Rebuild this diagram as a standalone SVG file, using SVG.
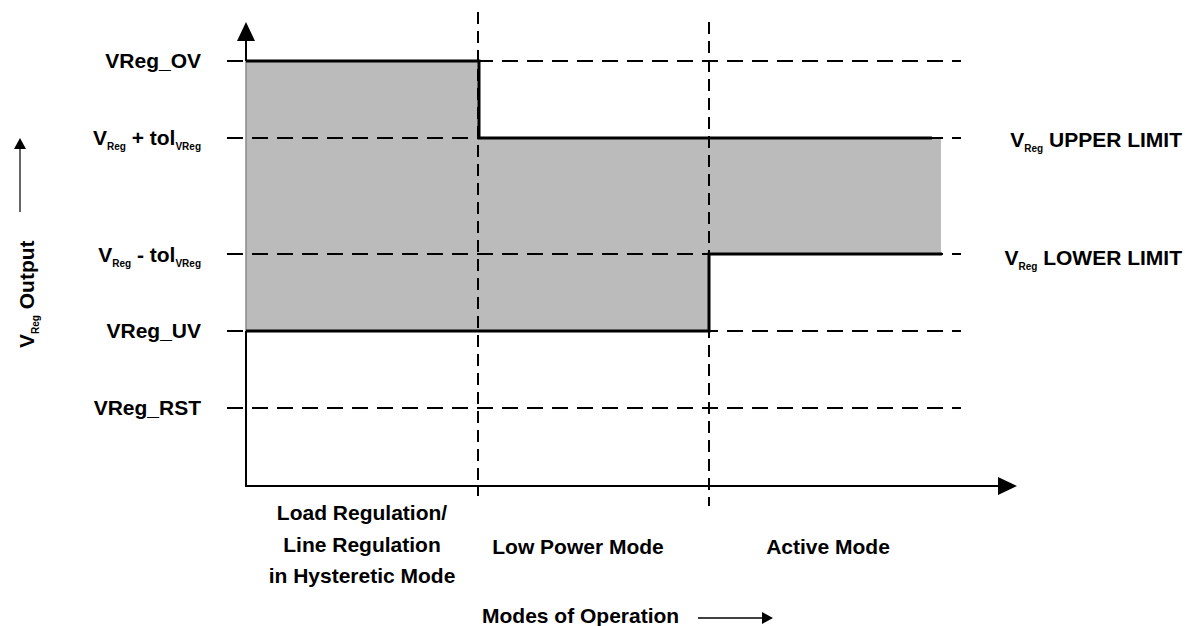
<svg xmlns="http://www.w3.org/2000/svg" width="1185" height="626" viewBox="0 0 1185 626">
  <style>
    text { font-family: "Liberation Sans", Arial, sans-serif; font-weight: bold; fill: #000; }
    .lbl { font-size: 21px; }
    .sub { font-size: 10px; }
    .hdash { stroke: #000; stroke-width: 2; stroke-dasharray: 16 9; fill: none; }
    .vdash { stroke: #000; stroke-width: 2; stroke-dasharray: 12 7; fill: none; }
    .axis { stroke: #000; stroke-width: 2; fill: none; }
    .trace { stroke: #000; stroke-width: 3; fill: none; }
  </style>
  <defs>
    <marker id="arrowBig" markerWidth="20" markerHeight="18" refX="0" refY="9" orient="auto" markerUnits="userSpaceOnUse">
      <path d="M0,0 L19,9 L0,18 Z" fill="#000"/>
    </marker>
    <marker id="arrowSmall" markerWidth="12" markerHeight="12" refX="0" refY="6" orient="auto" markerUnits="userSpaceOnUse">
      <path d="M0,0 L11,6 L0,12 Z" fill="#000"/>
    </marker>
  </defs>

  <rect width="1185" height="626" fill="#fff"/>

  <!-- regulation window (shaded band) -->
  <g id="band">
    <path d="M246,61 H478 V138 H941 V254 H709 V331 H246 Z" fill="#bbbbbb"/>
    <line x1="246" y1="61" x2="246" y2="331" stroke="#8a8a8a" stroke-width="1.5"/>
  </g>

  <g id="connectors">
    <!-- level lines -->
    <line class="hdash" x1="227" y1="61" x2="961" y2="61"/>
    <line class="hdash" x1="227" y1="138" x2="961" y2="138"/>
    <line class="hdash" x1="227" y1="254" x2="961" y2="254"/>
    <line class="hdash" x1="227" y1="331" x2="961" y2="331"/>
    <line class="hdash" x1="227" y1="408" x2="961" y2="408"/>
    <!-- mode boundaries -->
    <line class="vdash" x1="478" y1="12" x2="478" y2="496"/>
    <line class="vdash" x1="709" y1="22" x2="709" y2="506"/>

    <!-- axes -->
    <line class="axis" x1="246" y1="61" x2="246" y2="41" marker-end="url(#arrowBig)"/>
    <polyline class="axis" points="246,331 246,486 998,486" marker-end="url(#arrowBig)"/>

    <!-- upper limit trace -->
    <polyline class="trace" points="246,61 479,61 479,138 932,138"/>
    <!-- lower limit trace -->
    <polyline class="trace" points="246,331 709,331 709,254 942,254"/>

    <!-- axis direction hints -->
    <line x1="20" y1="212" x2="20" y2="149" stroke="#333" stroke-width="1.5" marker-end="url(#arrowSmall)"/>
    <line x1="698" y1="618" x2="762" y2="618" stroke="#000" stroke-width="1.5" marker-end="url(#arrowSmall)"/>
  </g>

  <!-- level labels -->
  <g id="lbl-ov"><text class="lbl" x="201" y="68" text-anchor="end">VReg_OV</text></g>
  <g id="lbl-up"><text class="lbl" x="201" y="145" text-anchor="end">V<tspan class="sub" dy="5">Reg</tspan><tspan dy="-5"> + tol</tspan><tspan class="sub" dy="5">VReg</tspan></text></g>
  <g id="lbl-low"><text class="lbl" x="201" y="262" text-anchor="end">V<tspan class="sub" dy="5">Reg</tspan><tspan dy="-5"> - tol</tspan><tspan class="sub" dy="5">VReg</tspan></text></g>
  <g id="lbl-uv"><text class="lbl" x="201" y="338" text-anchor="end">VReg_UV</text></g>
  <g id="lbl-rst"><text class="lbl" x="201" y="415" text-anchor="end">VReg_RST</text></g>

  <g id="lbl-upper-limit"><text class="lbl" x="1182" y="147" text-anchor="end">V<tspan class="sub" dy="5">Reg</tspan><tspan dy="-5"> UPPER LIMIT</tspan></text></g>
  <g id="lbl-lower-limit"><text class="lbl" x="1182" y="265" text-anchor="end">V<tspan class="sub" dy="5">Reg</tspan><tspan dy="-5"> LOWER LIMIT</tspan></text></g>

  <!-- y axis title -->
  <g id="y-title"><text class="lbl" x="34" y="348" transform="rotate(-90 34 348)">V<tspan class="sub" dy="5">Reg</tspan><tspan dy="-5"> Output</tspan></text></g>

  <!-- mode labels -->
  <g id="mode-hyst">
    <text class="lbl" x="362" y="520" text-anchor="middle">Load Regulation/</text>
    <text class="lbl" x="362" y="552" text-anchor="middle">Line Regulation</text>
    <text class="lbl" x="362" y="583" text-anchor="middle">in Hysteretic Mode</text>
  </g>
  <g id="mode-lp"><text class="lbl" x="578" y="554" text-anchor="middle">Low Power Mode</text></g>
  <g id="mode-active"><text class="lbl" x="828" y="554" text-anchor="middle">Active Mode</text></g>

  <!-- x axis title -->
  <g id="x-title"><text class="lbl" x="482" y="623">Modes of Operation</text></g>
</svg>
